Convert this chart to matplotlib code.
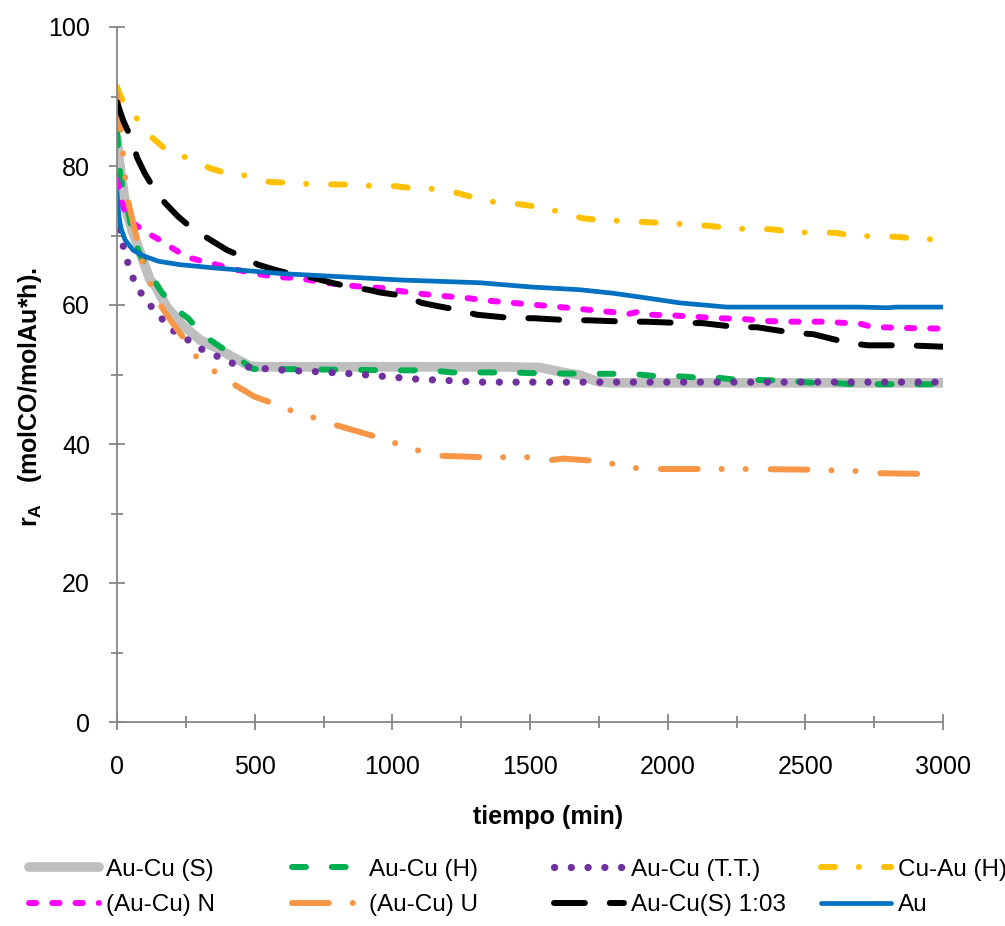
import matplotlib
matplotlib.use("Agg")
import matplotlib.pyplot as plt
from matplotlib.ticker import MultipleLocator

plt.rcParams['font.family'] = ['Liberation Sans', 'DejaVu Sans']
plt.rcParams['mathtext.fontset'] = 'custom'
plt.rcParams['mathtext.rm'] = 'Liberation Sans:bold'
plt.rcParams['mathtext.bf'] = 'Liberation Sans:bold'

# ---------------- data ----------------
series_names = ["Au-Cu (S)", "Au-Cu (H)", "Au-Cu (T.T.)", "Cu-Au (H)",
                "(Au-Cu) N", "(Au-Cu) U", "Au-Cu(S) 1:03", "Au"]

grey_t = [0, 5, 11, 36, 58, 94, 120, 138, 181, 240, 301, 363, 421, 483, 520, 1400, 1536, 1585, 1634, 1682, 1729, 1754, 1800, 3000]
grey_y = [84, 82, 79.8, 73.2, 70.4, 66.5, 63.6, 62.8, 59.7, 57, 55, 53.8, 52.5, 51.2, 51.1, 51.1, 51, 50.6, 50.2, 49.9, 49.2, 48.9, 48.8, 48.8]

green_t = [0, 5, 11, 20, 29, 45, 58, 83, 110, 131, 163, 217, 258, 312, 363, 421, 494, 545, 1000, 1144, 1216, 1435, 1506, 1725, 1871, 1946, 2020, 2093, 2165, 2237, 2433, 2528, 2600, 2673, 3000]
green_y = [85, 82.5, 79, 77, 75.5, 72.5, 70, 67.3, 65.3, 63.8, 61.8, 59.3, 58.1, 55.7, 54.3, 52.8, 50.8, 50.8, 50.6, 50.6, 50.3, 50.3, 50.2, 50.1, 50.1, 49.8, 49.8, 49.6, 49.6, 49.3, 49.1, 48.8, 48.8, 48.6, 48.6]

purple_t = [0, 11, 23, 40, 58, 89, 126, 168, 210, 265, 313, 371, 426, 487, 550, 610, 730, 857, 977, 1100, 1224, 1300, 3000]
purple_y = [73.2, 70.5, 68.4, 66, 63.9, 61.6, 59.7, 57.8, 56.1, 54.8, 53.5, 52.5, 51.5, 51, 50.8, 50.6, 50.4, 50.1, 49.7, 49.3, 49.1, 48.9, 48.9]

yellow_t = [0, 8, 23, 77, 130, 180, 253, 337, 385, 470, 555, 615, 700, 880, 930, 1010, 1075, 1159, 1239, 1300, 1384, 1464, 1529, 1609, 1689, 1754, 1838, 1983, 2070, 2147, 2219, 2296, 2379, 2452, 2529, 2608, 2681, 2761, 2837, 2910, 3000]
yellow_y = [91.4, 90.5, 89.2, 86.6, 84, 82.3, 81.2, 79.7, 79.1, 78.6, 77.7, 77.6, 77.4, 77.3, 77.1, 77.1, 76.8, 76.7, 76.1, 75.4, 74.7, 74.5, 74.1, 73.4, 72.5, 72.2, 72.1, 71.8, 71.6, 71.4, 71.1, 70.9, 70.9, 70.5, 70.4, 70.4, 69.9, 69.9, 69.8, 69.5, 69.4]

magenta_t = [0, 5, 11, 20, 30, 47, 65, 100, 149, 200, 254, 300, 363, 417, 494, 581, 657, 737, 817, 894, 980, 1030, 1107, 1185, 1270, 1355, 1438, 1525, 1610, 1690, 1765, 1820, 1857, 1890, 1936, 2020, 2100, 2180, 2270, 2354, 2437, 2565, 2652, 2700, 2728, 2772, 2850, 3000]
magenta_y = [78, 77, 76, 74.5, 73.3, 72.2, 71.6, 70.6, 69.5, 68.2, 66.9, 66.4, 65.8, 65.2, 64.6, 64, 63.9, 63.3, 62.9, 62.6, 62.4, 62, 61.6, 61.3, 61, 60.6, 60.3, 60, 59.7, 59.4, 59.1, 58.9, 58.7, 59.0, 58.6, 58.5, 58.3, 58.1, 58, 57.7, 57.6, 57.6, 57.4, 57.3, 57, 56.8, 56.7, 56.6]

orange_t = [0, 5, 15, 25, 40, 72, 94, 126, 162, 200, 252, 294, 363, 428, 470, 500, 563, 640, 722, 797, 944, 1020, 1100, 1180, 1330, 1500, 1580, 1620, 1729, 1809, 1889, 1972, 2300, 2528, 2688, 2764, 2924]
orange_y = [90.5, 88.5, 85, 80, 75, 69.5, 66, 62.6, 59.7, 57.5, 54.7, 52.2, 50.2, 48.5, 47.5, 46.8, 45.9, 44.7, 43.7, 42.7, 41, 40, 39, 38.3, 38.1, 38.1, 37.7, 37.9, 37.6, 37.1, 36.5, 36.4, 36.4, 36.3, 36.1, 35.8, 35.7]

black_t = [0, 10, 23, 40, 54, 72, 100, 138, 174, 220, 276, 334, 400, 458, 512, 580, 647, 712, 780, 846, 912, 955, 1046, 1107, 1170, 1239, 1307, 1438, 1511, 1645, 1711, 1852, 1918, 2056, 2124, 2256, 2325, 2390, 2456, 2529, 2600, 2663, 2728, 2870, 3000]
black_y = [89.2, 88, 86.5, 85, 84, 81.3, 79, 76.5, 74.7, 72.8, 70.9, 69.5, 67.9, 66.9, 65.8, 65, 64.3, 63.9, 63.2, 62.6, 62.2, 61.8, 61.3, 60.3, 59.8, 59.3, 58.6, 58.1, 58.1, 57.8, 57.8, 57.6, 57.6, 57.4, 57.4, 56.8, 56.8, 56.4, 56, 55.8, 55.1, 54.5, 54.2, 54.2, 54]

blue_t = [0, 3, 8, 15, 29, 58, 94, 150, 229, 363, 604, 846, 1028, 1318, 1500, 1680, 1800, 1925, 2045, 2215, 2456, 2699, 2800, 2830, 3000]
blue_y = [76.3, 74.5, 72.5, 71, 69.4, 67.9, 67.1, 66.3, 65.8, 65.3, 64.5, 64, 63.6, 63.2, 62.6, 62.2, 61.7, 61, 60.3, 59.7, 59.7, 59.7, 59.6, 59.7, 59.7]

x_ticks = [0, 500, 1000, 1500, 2000, 2500, 3000]
y_ticks = [0, 20, 40, 60, 80, 100]

# ---------------- styles ----------------
styles = [
    dict(color="#BFBFBF", lw=7.0, ls="-"),
    dict(color="#00B050", lw=4.3, ls=(0, (2.33, 4.33))),
    dict(color="#7030A0", lw=5.2, ls=(0, (0.02, 2.3))),
    dict(color="#FFC000", lw=4.3, ls=(0, (2.33, 4.0, 0.02, 4.17))),
    dict(color="#FF00FF", lw=4.3, ls=(0, (1.22, 2.67))),
    dict(color="#F79646", lw=4.3, ls=(0, (6.17, 4.0, 0.02, 4.0, 0.02, 4.17))),
    dict(color="#000000", lw=4.3, ls=(0, (5.17, 4.17))),
    dict(color="#0070C0", lw=3.4, ls="-"),
]
data = [(grey_t, grey_y), (green_t, green_y), (purple_t, purple_y), (yellow_t, yellow_y),
        (magenta_t, magenta_y), (orange_t, orange_y), (black_t, black_y), (blue_t, blue_y)]

fig = plt.figure(figsize=(10.05, 9.26), dpi=100)
ax = fig.add_axes([117/1005, 1 - 722/926, (943-117)/1005, (722-27)/926])

handles = []
for (t, y), st, name in zip(data, styles, series_names):
    h, = ax.plot(t, y, color=st["color"], lw=st["lw"], linestyle=st["ls"],
                 dash_capstyle="round", solid_capstyle="round",
                 solid_joinstyle="round", dash_joinstyle="round", label=name)
    handles.append(h)

ax.set_xlim(0, 3000)
ax.set_ylim(0, 100)
ax.set_xticks(x_ticks)
ax.set_yticks(y_ticks)
ax.xaxis.set_minor_locator(MultipleLocator(250))
ax.yaxis.set_minor_locator(MultipleLocator(10))

axis_grey = "#868686"
for s in ["top", "right"]:
    ax.spines[s].set_visible(False)
for s in ["left", "bottom"]:
    ax.spines[s].set_color(axis_grey)
    ax.spines[s].set_linewidth(1.3)

ax.tick_params(which="major", direction="inout", length=11, width=1.3, color=axis_grey,
               labelsize=18, labelcolor="black")
ax.tick_params(which="minor", direction="inout", length=9, width=1.3, color=axis_grey)
ax.tick_params(axis="x", which="major", pad=18)
ax.tick_params(axis="y", which="major", pad=14)

fig.text(548/1005, 1 - 817/926, "tiempo (min)", fontsize=18, fontweight="bold",
         ha="center", va="center")
fig.text(30/1005, 1 - 397/926, r"r$_{\mathrm{A}}$   (molCO/molAu*h).", fontsize=18,
         fontweight="bold", rotation=90, ha="center", va="center")

# legend: 4 columns, 2 rows
col_x = [29, 292, 554, 821]
cols = [[0, 4], [1, 5], [2, 6], [3, 7]]
for cx, idx in zip(col_x, cols):
    leg = fig.legend([handles[i] for i in idx], [series_names[i] for i in idx],
                     loc="center left", bbox_to_anchor=(cx/1005, 1 - 887.5/926),
                     frameon=False, fontsize=17.5, handlelength=2.9,
                     handletextpad=0.25, labelspacing=0.55, borderpad=0,
                     borderaxespad=0)

fig.savefig("out.png", dpi=100)
